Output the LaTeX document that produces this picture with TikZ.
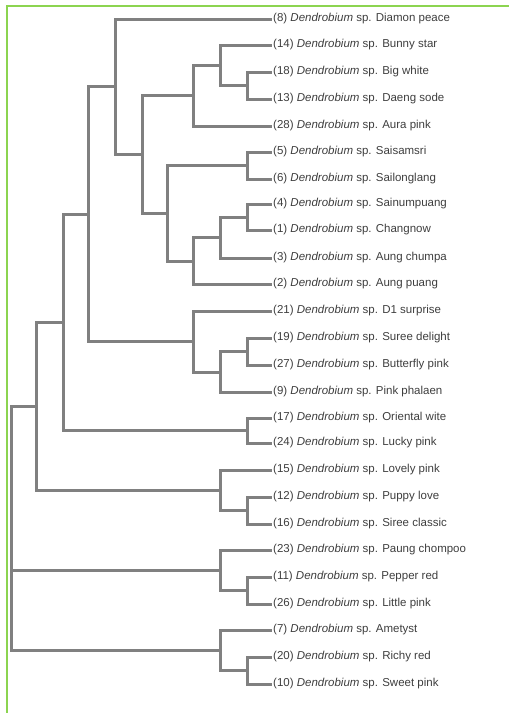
\documentclass[tikz,border=0pt]{standalone}
\usepackage{fontspec}
\setmainfont{Liberation Sans}
\usepackage{tikz}
\definecolor{BranchGray}{RGB}{128,128,128}
\definecolor{LabelGray}{RGB}{62,62,62}
\definecolor{FrameGreen}{RGB}{140,212,80}
\tikzset{
branch/.style={draw=BranchGray, line width=3pt},
frame/.style={draw=FrameGreen, line width=2pt},
}

\begin{document}
\begin{tikzpicture}[
  x=1pt, y=-1pt,
  leaf/.style={anchor=west, inner sep=1pt, text=LabelGray,
    font=\fontsize{11.5}{13}\selectfont, text height=8.2pt, text depth=2.4pt},
]
\useasboundingbox (0,0) rectangle (509,713);

%% frame (only left and top edges are visible)
\draw[frame] (7,713) -- (7,6) -- (509,6);

%% ---- leaves, top to bottom ----
\foreach \id/\yy/\name in {
  8/19/Diamon peace, 14/45/Bunny star, 18/72/Big white, 13/99/Daeng sode,
  28/126/Aura pink, 5/152/Saisamsri, 6/179/Sailonglang, 4/204/Sainumpuang,
  1/230/Changnow, 3/258/Aung chumpa, 2/284/Aung puang, 21/311/D1 surprise,
  19/338/Suree delight, 27/365/Butterfly pink, 9/392/Pink phalaen,
  17/418/Oriental wite, 24/443/Lucky pink, 15/470/Lovely pink,
  12/497/Puppy love, 16/524/Siree classic, 23/550/Paung chompoo,
  11/577/Pepper red, 26/604/Little pink, 7/630/Ametyst, 20/657/Richy red,
  10/684/Sweet pink}
  \node[leaf] (l\id) at (272,\yy) {(\id) \textit{Dendrobium} sp. \name};

%% ---- internal nodes ----
\coordinate (n18) at (247,85.5);
\coordinate (n14) at (220,65);
\coordinate (n28) at (193,95.5);
\coordinate (n5)  at (247,165.5);
\coordinate (n4)  at (247,217);
\coordinate (n3)  at (220,237.5);
\coordinate (n2)  at (193,261);
\coordinate (nsai) at (167,213);
\coordinate (na)  at (142,154);
\coordinate (nb)  at (115,86.5);
\coordinate (n19) at (247,351.5);
\coordinate (n9)  at (220,372);
\coordinate (n21) at (193,341.5);
\coordinate (nc)  at (88,214);
\coordinate (n17) at (247,430.5);
\coordinate (nd)  at (63,322);
\coordinate (n12) at (247,510.5);
\coordinate (n15) at (220,490);
\coordinate (ne)  at (36,406);
\coordinate (n11) at (247,590.5);
\coordinate (n23) at (220,570);
\coordinate (n20) at (247,670.5);
\coordinate (n7)  at (220,650);
\coordinate (root) at (11,528);

%% ---- branches ----
\draw[branch] (n18) |- (l18.west) (n18) |- (l13.west);
\draw[branch] (n14) |- (l14.west) (n14) |- (n18);
\draw[branch] (n28) |- (n14) (n28) |- (l28.west);
\draw[branch] (n5) |- (l5.west) (n5) |- (l6.west);
\draw[branch] (n4) |- (l4.west) (n4) |- (l1.west);
\draw[branch] (n3) |- (n4) (n3) |- (l3.west);
\draw[branch] (n2) |- (n3) (n2) |- (l2.west);
\draw[branch] (nsai) |- (n5) (nsai) |- (n2);
\draw[branch] (na) |- (n28) (na) |- (nsai);
\draw[branch] (nb) |- (l8.west) (nb) |- (na);
\draw[branch] (n19) |- (l19.west) (n19) |- (l27.west);
\draw[branch] (n9) |- (n19) (n9) |- (l9.west);
\draw[branch] (n21) |- (l21.west) (n21) |- (n9);
\draw[branch] (nc) |- (nb) (nc) |- (n21);
\draw[branch] (n17) |- (l17.west) (n17) |- (l24.west);
\draw[branch] (nd) |- (nc) (nd) |- (n17);
\draw[branch] (n12) |- (l12.west) (n12) |- (l16.west);
\draw[branch] (n15) |- (l15.west) (n15) |- (n12);
\draw[branch] (ne) |- (nd) (ne) |- (n15);
\draw[branch] (n11) |- (l11.west) (n11) |- (l26.west);
\draw[branch] (n23) |- (l23.west) (n23) |- (n11);
\draw[branch] (n20) |- (l20.west) (n20) |- (l10.west);
\draw[branch] (n7) |- (l7.west) (n7) |- (n20);
\draw[branch] (root) |- (ne) (root) |- (n23) (root) |- (n7);
\end{tikzpicture}
\end{document}
